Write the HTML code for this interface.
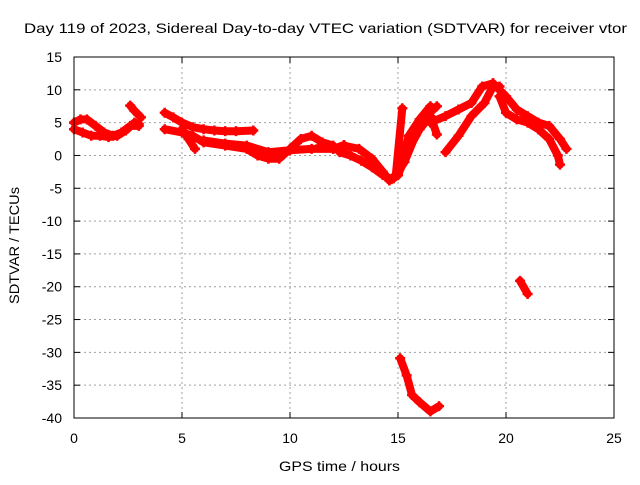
<!DOCTYPE html>
<html><head><meta charset="utf-8"><style>
html,body{margin:0;padding:0;background:#fff;}
svg text{font-family:"Liberation Sans",sans-serif;font-size:14px;fill:#000;}
</style></head><body>
<svg id="chart" width="640" height="480" xmlns="http://www.w3.org/2000/svg">
<rect width="640" height="480" fill="#fff"/>
<text x="24" y="33" textLength="603" lengthAdjust="spacingAndGlyphs">Day 119 of 2023, Sidereal Day-to-day VTEC variation (SDTVAR) for receiver vtor</text>
<g id="grid"></g>
<g id="ticks"></g>
<g id="series"></g>
<rect x="74" y="57" width="540" height="361" fill="none" stroke="#000" stroke-width="1"/>
<text x="279" y="471" textLength="121" lengthAdjust="spacingAndGlyphs">GPS time / hours</text>
<text x="19" y="304" textLength="117" lengthAdjust="spacingAndGlyphs" transform="rotate(-90 19 304)">SDTVAR / TECUs</text>
</svg>
<script>
const xTicks=[0,5,10,15,20,25];
const yTicks=[15,10,5,0,-5,-10,-15,-20,-25,-30,-35,-40];
const trackNames=['a1','a2','a3','b1','c1','c2','c3','d1','d2','d3','d4','e1','e2','f1','f2','o1','o2','d5'];
const trackHours=[
[0,0.3,0.6,1.0,1.4,1.8,2.2,2.6,3.0],
[0,0.4,0.8,1.2,1.6,2.0,2.4,2.8,3.0],
[2.6,2.8,3.1],
[4.2,4.6,5.0,5.5,6.0,6.5,7.0,7.5,8.3],
[4.2,5.0,5.5,6.0,7.0,8.0,8.5,9.0,9.5,10.0,10.5,11.0,11.5,12.0],
[6.0,7.0,8.0,9.0,10.0,11.0,12.0,12.5],
[5.0,5.3,5.6],
[11.4,12.0,12.5,13.2,13.8,14.3,14.6,14.9,15.2],
[14.6,15.0,15.5,16.0,16.5],
[14.8,15.3,15.8,16.3,16.8],
[15.0,15.5,16.0,16.5,16.8],
[17.2,17.8,18.4,19.0,19.4,19.7],
[16.5,17.2,17.8,18.4,18.9,19.4],
[19.4,20.0,20.5,21.0,21.5,22.0,22.5,22.8],
[19.7,20.0,20.5,21.0,21.5,22.0,22.4,22.5],
[15.1,15.4,15.65,16.0,16.5,16.9],
[20.65,21.0],
[12.3,12.8,13.3,13.8,14.3,14.7]
];
const trackValues=[
[5,5.5,5.5,4.5,3.5,3,3.5,4.5,4.5],
[4,3.5,3,3,2.8,3,3.8,5,4.8],
[7.6,6.8,5.8],
[6.5,5.8,5.0,4.3,4.0,3.8,3.7,3.7,3.8],
[4,3.5,3,2,1.5,1,0,-0.5,-0.5,1,2.5,3,2,1.5],
[2.3,1.8,1.5,0.5,0.8,1,1,1.6],
[4,2.5,1],
[1.5,1,1.5,1,-0.5,-2.5,-3.8,-3,7.2],
[-3.8,-3,3,5.5,7.5],
[-3.5,-1,3,6,7.5],
[-3,1,4,6,3.2],
[0.5,3,6,8,10.5,10.5],
[5,6,7,8,10.5,11],
[11,9,7,6,5,4.5,2.5,1],
[9,6.5,5.5,5,4,2.5,0,-1.4],
[-30.9,-33.5,-36.5,-37.6,-39,-38.2],
[-19.1,-21.1],
[0.5,0,-0.8,-1.8,-3,-3.6]
];
const X0=74,X1=614,Y0=57,Y1=418;
function xs(h){return X0+(h-0)/25*(X1-X0);}
function ys(v){return Y0+(15-v)/55*(Y1-Y0);}
const NS='http://www.w3.org/2000/svg';
const grid=document.getElementById('grid'),ticks=document.getElementById('ticks'),ser=document.getElementById('series');
function mk(t,a,p){const e=document.createElementNS(NS,t);for(const k in a)e.setAttribute(k,a[k]);p.appendChild(e);return e;}
xTicks.forEach(t=>{
 const x=xs(t);
 if(t>0&&t<25){const l=mk('line',{x1:x,x2:x,y1:Y0,y2:Y1,stroke:'#a0a0a0','stroke-dasharray':'2,3'},grid);
 
 }
 const a=mk('line',{x1:x,x2:x,y1:Y1,y2:Y1-6,stroke:'#000'},ticks);
 
 
 const b=mk('line',{x1:x,x2:x,y1:Y0,y2:Y0+6,stroke:'#000'},ticks);
 
 
 const tx=mk('text',{x:x,y:443,'text-anchor':'middle'},ticks);tx.textContent=t;
 
 
});
yTicks.forEach(t=>{
 const y=ys(t);
 if(t<15&&t>-40){const l=mk('line',{x1:X0,x2:X1,y1:y,y2:y,stroke:'#a0a0a0','stroke-dasharray':'2,3'},grid);
 
 }
 const a=mk('line',{x1:X0,x2:X0+6,y1:y,y2:y,stroke:'#000'},ticks);
 
 
 const b=mk('line',{x1:X1,x2:X1-6,y1:y,y2:y,stroke:'#000'},ticks);
 
 
 const tx=mk('text',{x:62,y:y+5,'text-anchor':'end'},ticks);tx.textContent=t;
 
 
});
trackNames.forEach((n,i)=>{
 const pts=trackHours[i].map((h,j)=>xs(h).toFixed(1)+','+ys(trackValues[i][j]).toFixed(1)).join(' ');
 const pl=mk('polyline',{points:pts,fill:'none',stroke:'#ff0000','stroke-width':8,'stroke-linejoin':'round','stroke-linecap':'round'},ser);
 
 
 trackHours[i].forEach((h,j)=>{
  const x=xs(h),y=ys(trackValues[i][j]);
  const p=mk('path',{d:`M${x-5},${y}H${x+5}M${x},${y-5}V${y+5}`,stroke:'#ff0000','stroke-width':2.5},ser);
  
  
 });
});
</script>
</body></html>
